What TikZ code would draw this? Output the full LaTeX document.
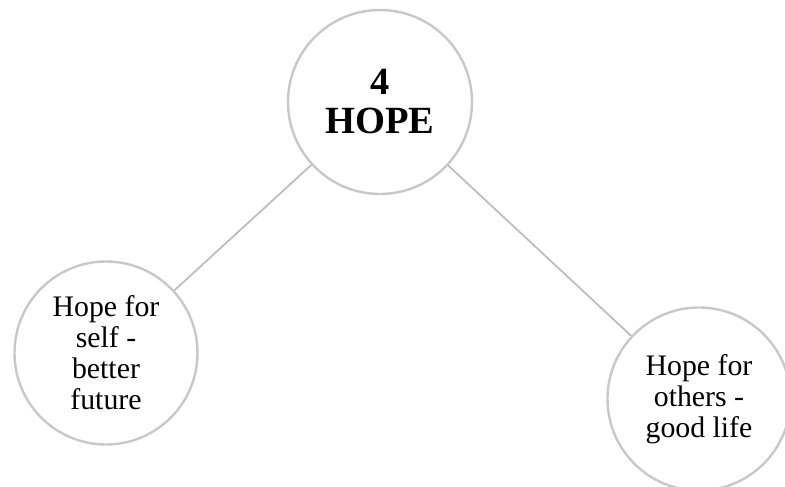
\documentclass[tikz,border=0pt]{standalone}
\usepackage{fontspec}
\setmainfont{Liberation Serif}
\definecolor{ringgray}{HTML}{C8C8C8}
\definecolor{linkgray}{HTML}{BDBDBD}
\begin{document}
\begin{tikzpicture}[x=1pt,y=1pt,
  bubble/.style={circle, draw=ringgray, line width=2.4pt, fill=white,
    minimum size=183pt, inner sep=0pt, align=center},
  leaftext/.style={font=\fontsize{29.8}{31}\selectfont},
  link/.style={draw=linkgray, line width=1.8pt}]
  \useasboundingbox (0,0) rectangle (785,487);
  \clip (0,0) rectangle (785,487);
  \node[bubble, minimum size=184pt, font=\bfseries\fontsize{38.5}{39}\selectfont] (hope) at (380,385) {4\\HOPE};
  \node[bubble, leaftext] (self) at (106,134) {Hope for\\self -\\better\\future};
  \node[bubble, leaftext] (others) at (699,88) {Hope for\\others -\\good life};
  \draw[link] (hope) -- (self);
  \draw[link] (hope) -- (others);
\end{tikzpicture}
\end{document}
